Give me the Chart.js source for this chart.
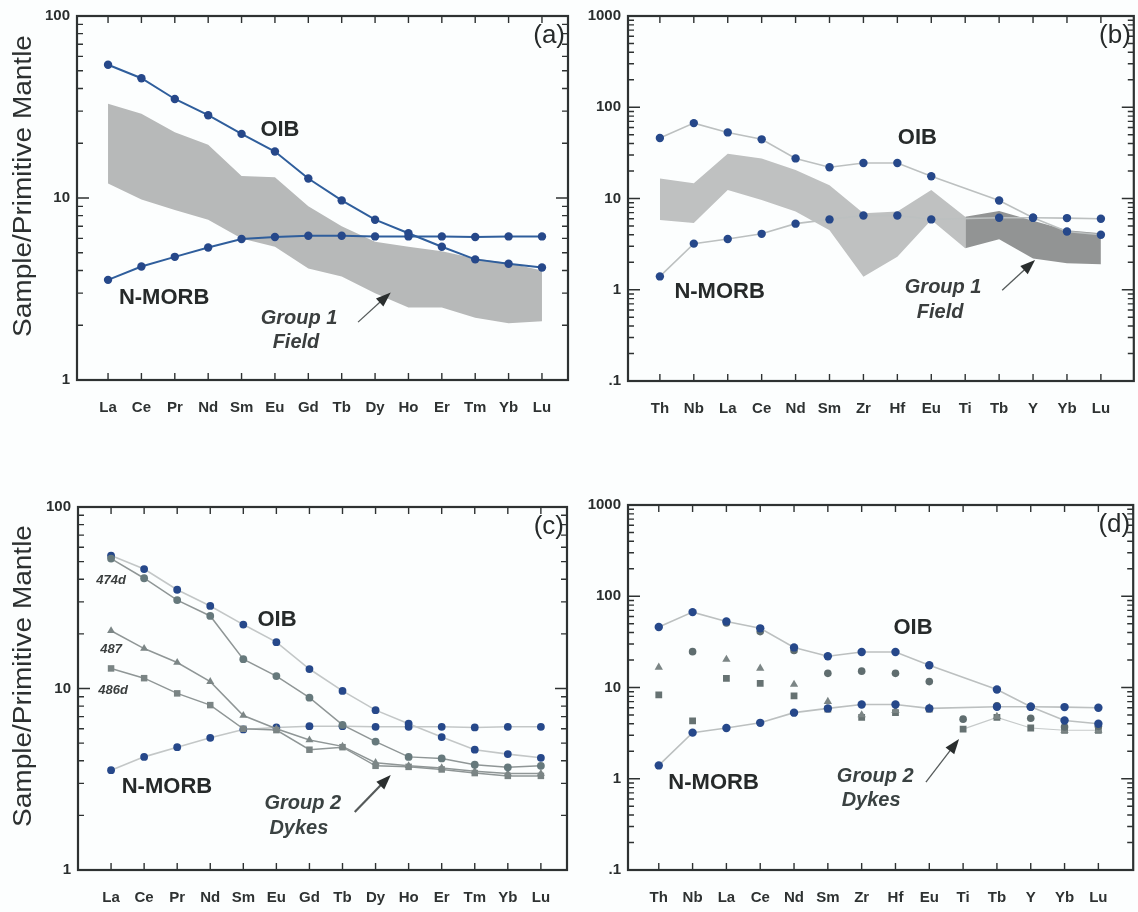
<!DOCTYPE html>
<html>
<head>
<meta charset="utf-8">
<script src="https://cdn.jsdelivr.net/npm/chart.js@4.4.0/dist/chart.umd.min.js"></script>
<style>
  body { margin: 0; background: #fcfefe; }
  #wrap { position: relative; width: 1138px; height: 912px; background: #fcfefe; }
  canvas { position: absolute; }
</style>
</head>
<body>
<div id="wrap">
  <canvas id="ca" width="575" height="450" style="left:0;top:0"></canvas>
  <canvas id="cb" width="563" height="450" style="left:575px;top:0"></canvas>
  <canvas id="cc" width="575" height="462" style="left:0;top:450px"></canvas>
  <canvas id="cd" width="563" height="462" style="left:575px;top:450px"></canvas>
</div>
<script>
// element order on the two kinds of plot
const reeLabels = ['La', 'Ce', 'Pr', 'Nd', 'Sm', 'Eu', 'Gd', 'Tb', 'Dy', 'Ho', 'Er', 'Tm', 'Yb', 'Lu'];
const spiderLabels = ['Th', 'Nb', 'La', 'Ce', 'Nd', 'Sm', 'Zr', 'Hf', 'Eu', 'Ti', 'Tb', 'Y', 'Yb', 'Lu'];

// reference basalts, normalised to primitive mantle
const oibRee = [54, 45.5, 35, 28.5, 22.5, 18, 12.8, 9.7, 7.6, 6.4, 5.4, 4.6, 4.35, 4.15];
const nmorbRee = [3.55, 4.2, 4.75, 5.35, 5.95, 6.1, 6.2, 6.2, 6.15, 6.15, 6.15, 6.1, 6.15, 6.15];
const oibSpider = [46, 67, 53, 44.5, 27.5, 22, 24.5, 24.5, 17.5, null, 9.5, 6.15, 4.35, 4.0];
const nmorbSpider = [1.4, 3.2, 3.6, 4.1, 5.3, 5.9, 6.5, 6.5, 5.9, null, 6.15, 6.15, 6.1, 6.0];

// Group 1 field envelope
const field1ReeTop = [33, 29, 23, 19.6, 13.2, 13.0, 9, 7, 5.75, 5.4, 5.1, 4.65, 4.4, 4.0];
const field1ReeBottom = [12, 9.8, 8.6, 7.6, 6.0, 5.4, 4.1, 3.7, 3.0, 2.5, 2.5, 2.2, 2.05, 2.1];
const field1SpiderTop = [16.6, 14.7, 31, 27.5, 20.5, 14, 6.9, 7.2, 12.4, 6.3, 7.3, 5.7, 4.5, 4.15];
const field1SpiderBottom = [5.8, 5.4, 12.4, 9.6, 7.2, 4.5, 1.39, 2.3, 5.8, 2.85, 3.57, 2.2, 1.95, 1.9];

// Group 2 dykes
const d474Ree = [52, 40.5, 30.7, 25.1, 14.5, 11.7, 8.9, 6.3, 5.1, 4.2, 4.12, 3.8, 3.68, 3.75];
const d487Ree = [20.8, 16.6, 13.9, 10.9, 7.1, 6.0, 5.2, 4.8, 3.9, 3.75, 3.65, 3.5, 3.4, 3.4];
const d486Ree = [12.9, 11.4, 9.4, 8.1, 6.0, 5.9, 4.6, 4.75, 3.75, 3.7, 3.58, 3.42, 3.3, 3.3];
const d474Spider = [null, 24.7, 51, 41, 25.5, 14.3, 15.1, 14.3, 11.6, 4.5, 6.3, 4.6, 3.7, 3.75];
const d487Spider = [16.6, null, 20.3, 16.2, 10.8, 7.0, 5.0, 5.6, 6.0, null, 4.8, null, 3.4, 3.4];
const d486Spider = [8.3, 4.3, 12.6, 11.1, 8.1, 5.8, 4.7, 5.3, 5.8, 3.5, 4.7, 3.6, 3.4, 3.4];

const BLUE = '#26488a';
const FONT = 'Liberation Sans';

const pts = (arr, from = 0, to = arr.length - 1) =>
  arr.slice(from, to + 1).map((v, k) => ({ x: from + k, y: v }));

function series(vals, o) {
  return Object.assign({
    data: pts(vals), borderWidth: 1.6, pointRadius: 4.2, pointBorderWidth: 0,
    pointBackgroundColor: BLUE, borderColor: '#bcc0c0', spanGaps: true, fill: false, order: 1
  }, o);
}
function band(top, bottom, color, from, to) {
  return [
    { data: pts(top, from, to), borderWidth: 0, borderColor: 'transparent', pointRadius: 0,
      fill: '+1', backgroundColor: color, order: 5 },
    { data: pts(bottom, from, to), borderWidth: 0, borderColor: 'transparent', pointRadius: 0,
      fill: false, order: 6 }
  ];
}

// frame, inward ticks and annotations
const frame = {
  id: 'frame',
  afterDraw(chart, args, o) {
    const { ctx, chartArea: a, scales: { x, y } } = chart;
    ctx.save();
    ctx.strokeStyle = '#2e3232';
    ctx.lineWidth = 1.4;
    ctx.beginPath();
    for (let i = 0; i < 14; i++) {
      const px = x.getPixelForValue(i);
      ctx.moveTo(px, a.bottom); ctx.lineTo(px, a.bottom - 7);
      ctx.moveTo(px, a.top); ctx.lineTo(px, a.top + 7);
    }
    const e0 = Math.round(Math.log10(y.min)), e1 = Math.round(Math.log10(y.max));
    for (let e = e0; e < e1; e++) {
      for (let m = 1; m <= 10; m++) {
        const py = y.getPixelForValue(m * Math.pow(10, e));
        const len = (m === 1 || m === 10) ? 12 : 6;
        ctx.moveTo(a.left, py); ctx.lineTo(a.left + len, py);
        ctx.moveTo(a.right, py); ctx.lineTo(a.right - len, py);
      }
    }
    ctx.stroke();
    ctx.lineWidth = 2.2;
    ctx.strokeRect(a.left, a.top, a.right - a.left, a.bottom - a.top);

    ctx.fillStyle = '#262a2a';
    ctx.textAlign = 'right';
    ctx.textBaseline = 'middle';
    ctx.font = '26px ' + FONT;
    ctx.fillText(o.letter, a.right - 3, a.top + 20);

    ctx.textAlign = 'center';
    (o.texts || []).forEach(t => {
      ctx.font = (t.italic ? 'italic ' : '') + 'bold ' + t.size + 'px ' + FONT;
      ctx.fillStyle = t.color || '#262a2a';
      ctx.fillText(t.text, x.getPixelForValue(t.x), y.getPixelForValue(t.y));
    });

    (o.arrows || []).forEach(r => {
      const x1 = x.getPixelForValue(r[0]), y1 = y.getPixelForValue(r[1]);
      const x2 = x.getPixelForValue(r[2]), y2 = y.getPixelForValue(r[3]);
      const ang = Math.atan2(y2 - y1, x2 - x1);
      ctx.strokeStyle = '#555a5a';
      ctx.lineWidth = r[4] || 1.3;
      ctx.beginPath(); ctx.moveTo(x1, y1);
      ctx.lineTo(x2 - 10 * Math.cos(ang), y2 - 10 * Math.sin(ang)); ctx.stroke();
      ctx.fillStyle = '#2a2e2e';
      ctx.beginPath();
      ctx.moveTo(x2, y2);
      ctx.lineTo(x2 - 15 * Math.cos(ang) + 5.5 * Math.sin(ang), y2 - 15 * Math.sin(ang) - 5.5 * Math.cos(ang));
      ctx.lineTo(x2 - 15 * Math.cos(ang) - 5.5 * Math.sin(ang), y2 - 15 * Math.sin(ang) + 5.5 * Math.cos(ang));
      ctx.closePath(); ctx.fill();
    });

    if (o.ytitle) {
      ctx.translate(24, o.ytitle);
      ctx.rotate(-Math.PI / 2);
      ctx.scale(1.12, 1);
      ctx.font = '25px ' + FONT;
      ctx.fillStyle = '#2c3030';
      ctx.fillText('Sample/Primitive Mantle', 0, 0);
    }
    ctx.restore();
  }
};

function makeChart(id, cats, box, yr, datasets, deco) {
  return new Chart(document.getElementById(id), {
    type: 'line',
    data: { datasets },
    options: {
      responsive: false,
      animation: false,
      layout: { padding: { left: 0, top: box.top, right: box.right, bottom: 0 } },
      plugins: { legend: { display: false }, tooltip: { enabled: false }, frame: deco },
      scales: {
        x: {
          type: 'linear', min: box.xmin, max: box.xmax,
          grid: { display: false, drawTicks: false }, border: { display: false },
          afterBuildTicks: s => { s.ticks = cats.map((c, i) => ({ value: i })); },
          afterFit: s => { s.height = box.xh; },
          ticks: {
            autoSkip: false, maxRotation: 0, padding: 19, color: '#2e3232',
            font: { family: FONT, size: 15, weight: 'bold' }, callback: v => cats[v]
          }
        },
        y: {
          type: 'logarithmic', min: yr[0], max: yr[1],
          grid: { display: false, drawTicks: false }, border: { display: false },
          afterBuildTicks: s => {
            const t = [];
            for (let v = yr[0]; v <= yr[1] * 1.001; v *= 10) t.push({ value: v });
            s.ticks = t;
          },
          afterFit: s => { s.width = box.yw; },
          ticks: {
            padding: 7, color: '#2a2e2e', font: { family: FONT, size: 15, weight: 'bold' },
            callback: v => (v < 1 ? '.1' : String(Math.round(v)))
          }
        }
      }
    },
    plugins: [frame]
  });
}

// (a)
makeChart('ca', reeLabels,
  { top: 15, right: 7, yw: 77, xh: 70, xmin: -0.93, xmax: 13.78 }, [1, 100],
  [
    series(oibRee, { borderColor: '#2f5e9c', borderWidth: 2 }),
    series(nmorbRee, { borderColor: '#2f5e9c', borderWidth: 2 }),
    ...band(field1ReeTop, field1ReeBottom, '#b7b9b9', 0, 13)
  ],
  {
    letter: '(a)', ytitle: 186,
    texts: [
      { text: 'OIB', x: 5.15, y: 23.7, size: 22 },
      { text: 'N-MORB', x: 1.68, y: 2.81, size: 22 },
      { text: 'Group 1', x: 5.72, y: 2.19, size: 20, italic: true, color: '#3a3e3e' },
      { text: 'Field', x: 5.63, y: 1.6, size: 20, italic: true, color: '#3a3e3e' }
    ],
    arrows: [[7.49, 2.08, 8.47, 3.03]]
  });

// (b)
makeChart('cb', spiderLabels,
  { top: 16, right: 3, yw: 53, xh: 69, xmin: -0.94, xmax: 13.97 }, [0.1, 1000],
  [
    series(oibSpider),
    series(nmorbSpider),
    ...band(field1SpiderTop, field1SpiderBottom, '#bfc1c1', 0, 9),
    ...band(field1SpiderTop, field1SpiderBottom, '#929494', 9, 13)
  ],
  {
    letter: '(b)',
    texts: [
      { text: 'OIB', x: 7.59, y: 46, size: 22 },
      { text: 'N-MORB', x: 1.76, y: 0.94, size: 22 },
      { text: 'Group 1', x: 8.35, y: 1.05, size: 20, italic: true, color: '#3a3e3e' },
      { text: 'Field', x: 8.26, y: 0.57, size: 20, italic: true, color: '#3a3e3e' }
    ],
    arrows: [[10.09, 0.99, 11.06, 2.12]]
  });

// (c)
const sampleLine = { borderColor: '#8f9696', borderWidth: 1.5 };
makeChart('cc', reeLabels,
  { top: 57, right: 8, yw: 78, xh: 42, xmin: -1.0, xmax: 13.79 }, [1, 100],
  [
    series(d474Ree, Object.assign({ pointStyle: 'circle', pointRadius: 3.9, pointBackgroundColor: '#66797c' }, sampleLine)),
    series(d487Ree, Object.assign({ pointStyle: 'triangle', pointRadius: 4.6, pointBackgroundColor: '#7c8686' }, sampleLine)),
    series(d486Ree, Object.assign({ pointStyle: 'rect', pointRadius: 4.6, pointBackgroundColor: '#7a8484' }, sampleLine)),
    series(oibRee, { borderColor: '#c3c7c7', pointRadius: 3.9 }),
    series(nmorbRee, { borderColor: '#c3c7c7', pointRadius: 3.9 })
  ],
  {
    letter: '(c)', ytitle: 226,
    texts: [
      { text: 'OIB', x: 5.02, y: 23.9, size: 22 },
      { text: 'N-MORB', x: 1.69, y: 2.87, size: 22 },
      { text: 'Group 2', x: 5.8, y: 2.34, size: 20, italic: true, color: '#3a4242' },
      { text: 'Dykes', x: 5.68, y: 1.70, size: 20, italic: true, color: '#3a4242' },
      { text: '474d', x: 0, y: 39.6, size: 13, italic: true, color: '#3a3e3e' },
      { text: '487', x: 0, y: 16.5, size: 13, italic: true, color: '#3a3e3e' },
      { text: '486d', x: 0.06, y: 9.8, size: 13, italic: true, color: '#3a3e3e' }
    ],
    arrows: [[7.37, 2.09, 8.46, 3.34, 2.2]]
  });

// (d)
makeChart('cd', spiderLabels,
  { top: 55, right: 3, yw: 53, xh: 42, xmin: -0.91, xmax: 14.03 }, [0.1, 1000],
  [
    series(oibSpider),
    series(nmorbSpider),
    series(d474Spider, { showLine: false, pointStyle: 'circle', pointRadius: 3.8, pointBackgroundColor: '#5f6d6f' }),
    series(d487Spider, { showLine: false, pointStyle: 'triangle', pointRadius: 4.8, pointBackgroundColor: '#7b8585' }),
    series(d486Spider, {
      pointStyle: 'rect', pointRadius: 4.8, pointBackgroundColor: '#667272', borderWidth: 1.2,
      segment: { borderColor: c => (c.p0DataIndex >= 9 ? '#c6caca' : 'transparent') }
    })
  ],
  {
    letter: '(d)',
    texts: [
      { text: 'OIB', x: 7.52, y: 44.9, size: 22 },
      { text: 'N-MORB', x: 1.62, y: 0.9, size: 22 },
      { text: 'Group 2', x: 6.4, y: 1.07, size: 20, italic: true, color: '#3a4242' },
      { text: 'Dykes', x: 6.28, y: 0.58, size: 20, italic: true, color: '#3a4242' }
    ],
    arrows: [[7.9, 0.92, 8.88, 2.73]]
  });
</script>
</body>
</html>
